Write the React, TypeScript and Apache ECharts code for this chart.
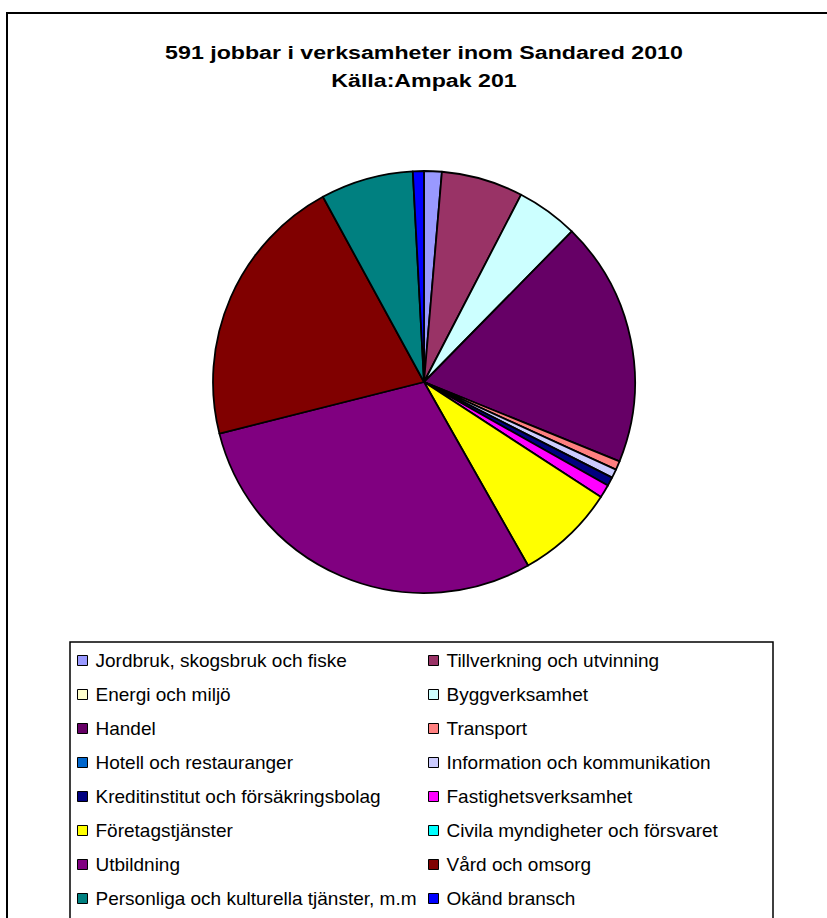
import React, { useEffect, useRef } from "react";
import * as echarts from "echarts";

const categories = [
  "Jordbruk, skogsbruk och fiske",
  "Tillverkning och utvinning",
  "Energi och miljö",
  "Byggverksamhet",
  "Handel",
  "Transport",
  "Hotell och restauranger",
  "Information och kommunikation",
  "Kreditinstitut och försäkringsbolag",
  "Fastighetsverksamhet",
  "Företagstjänster",
  "Civila myndigheter och försvaret",
  "Utbildning",
  "Vård och omsorg",
  "Personliga och kulturella tjänster, m.m",
  "Okänd bransch",
];

const jobs = [8, 37, 0, 28, 111, 4, 0, 4, 4, 6, 45, 0, 173, 124, 42, 5];

const colors = [
  "#9999FF",
  "#993366",
  "#FFFFCC",
  "#CCFFFF",
  "#660066",
  "#FF8080",
  "#0066CC",
  "#CCCCFF",
  "#000080",
  "#FF00FF",
  "#FFFF00",
  "#00FFFF",
  "#800080",
  "#800000",
  "#008080",
  "#0000FF",
];

const titleLines = ["591 jobbar i verksamheter inom Sandared 2010", "Källa:Ampak 201"];

const FONT = "'Liberation Sans', Arial, sans-serif";

export default function App() {
  const ref = useRef<HTMLDivElement>(null);

  useEffect(() => {
    document.body.style.margin = "0";
    if (!ref.current) return;
    const chart = echarts.init(ref.current, undefined, { renderer: "svg" });

    const leftNames = categories.filter((_, i) => i % 2 === 0);
    const rightNames = categories.filter((_, i) => i % 2 === 1);

    const legendCommon = {
      orient: "vertical" as const,
      icon: "rect",
      itemWidth: 10,
      itemHeight: 10,
      itemGap: 15,
      padding: 0,
      selectedMode: false,
      itemStyle: { borderColor: "#000", borderWidth: 1 },
      textStyle: {
        fontFamily: FONT,
        fontSize: 19,
        lineHeight: 19,
        color: "#000",
        padding: [0, 0, 0, 3],
      },
    };

    chart.setOption({
      animation: false,
      color: colors,
      graphic: [
        {
          type: "rect",
          shape: { x: 7, y: 13, width: 900, height: 1000 },
          style: { fill: "none", stroke: "#000", lineWidth: 2 },
          silent: true,
        },
        {
          type: "rect",
          shape: { x: 70, y: 642, width: 703, height: 400 },
          style: { fill: "none", stroke: "#000", lineWidth: 1.5 },
          silent: true,
        },
        ...titleLines.map((t, i) => ({
          type: "text",
          x: 424,
          y: 52 + i * 28,
          scaleX: 1.22,
          silent: true,
          style: {
            text: t,
            fontFamily: FONT,
            fontSize: 19,
            fontWeight: "bold",
            fill: "#000",
            textAlign: "center",
            textVerticalAlign: "middle",
          },
        })),
      ],
      legend: [
        { ...legendCommon, left: 77, top: 651, data: leftNames },
        { ...legendCommon, left: 428, top: 651, data: rightNames },
      ],
      series: [
        {
          type: "pie",
          center: [424, 382],
          radius: 211,
          startAngle: 90,
          clockwise: true,
          label: { show: false },
          labelLine: { show: false },
          emphasis: { disabled: true },
          silent: true,
          itemStyle: { borderColor: "#000", borderWidth: 1.8 },
          data: categories.map((name, i) => ({
            name,
            value: jobs[i],
            itemStyle: jobs[i] === 0 ? { borderWidth: 0 } : undefined,
          })),
        },
      ],
    });

    return () => chart.dispose();
  }, []);

  return <div ref={ref} style={{ width: 827, height: 918 }} />;
}
